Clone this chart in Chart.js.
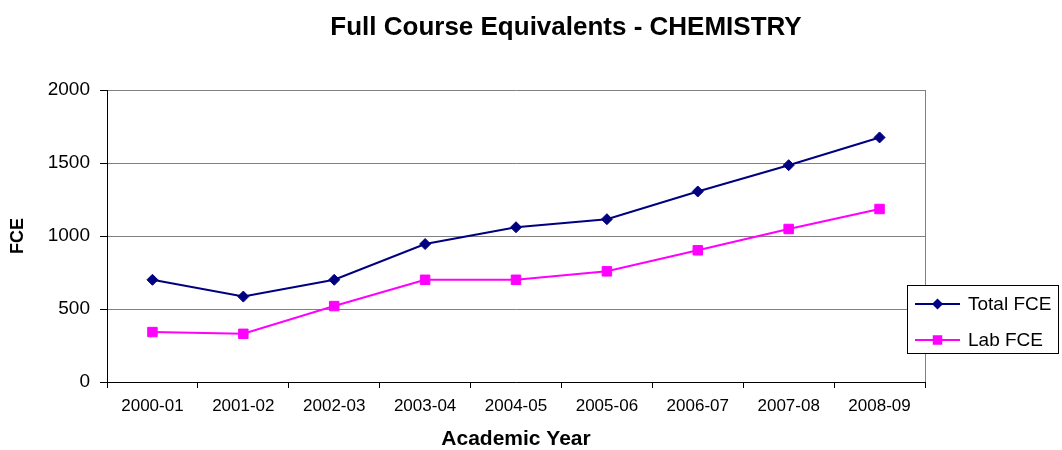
<!DOCTYPE html>
<html>
<head>
<meta charset="utf-8">
<title>Full Course Equivalents - CHEMISTRY</title>
<script src="https://cdn.jsdelivr.net/npm/chart.js@4.4.1/dist/chart.umd.min.js"></script>
<style>
  html, body { margin: 0; padding: 0; background: #fff; }
  #grafico { display: block; }
</style>
</head>
<body>
<canvas id="grafico" width="1062" height="450"></canvas>
<script>
// dados
const anos = ['2000-01', '2001-02', '2002-03', '2003-04', '2004-05', '2005-06', '2006-07', '2007-08', '2008-09'];
const totalFCE = [700, 585, 700, 945, 1060, 1115, 1305, 1485, 1675];
const labFCE = [342, 330, 520, 700, 700, 758, 902, 1048, 1185];
const ticksY = [0, 500, 1000, 1500, 2000];

const FONTE = "'Liberation Sans', Arial, sans-serif";
const AZUL = '#000080';
const ROSA = '#ff00ff';

// titulo, borda direita da area e legenda desenhados a mao (estilo Excel)
const extras = {
    id: 'extras',
    beforeDatasetsDraw(chart) {
        const { ctx, chartArea: a } = chart;
        ctx.save();
        ctx.strokeStyle = '#808080';
        ctx.lineWidth = 1;
        ctx.beginPath();
        ctx.moveTo(a.right + 0.5, a.top);
        ctx.lineTo(a.right + 0.5, a.bottom);
        ctx.stroke();
        ctx.restore();
    },
    afterDraw(chart) {
        const { ctx } = chart;
        ctx.save();
        ctx.fillStyle = '#000';
        ctx.font = 'bold 26px ' + FONTE;
        ctx.textAlign = 'center';
        ctx.textBaseline = 'middle';
        ctx.fillText('Full Course Equivalents - CHEMISTRY', 566, 28);

        // legenda
        const lx = 907.5, ly = 285.5, lw = 151, lh = 68;
        ctx.fillStyle = '#fff';
        ctx.fillRect(lx, ly, lw, lh);
        ctx.strokeStyle = '#000';
        ctx.lineWidth = 1;
        ctx.strokeRect(lx, ly, lw, lh);

        const itens = [
            { nome: 'Total FCE', cor: AZUL, forma: 'diamante', y: 304 },
            { nome: 'Lab FCE', cor: ROSA, forma: 'quadrado', y: 340 }
        ];
        itens.forEach(item => {
            ctx.strokeStyle = item.cor;
            ctx.lineWidth = 2;
            ctx.beginPath();
            ctx.moveTo(915, item.y);
            ctx.lineTo(960, item.y);
            ctx.stroke();
            ctx.fillStyle = item.cor;
            const cx = 937.5;
            if (item.forma === 'diamante') {
                ctx.beginPath();
                ctx.moveTo(cx, item.y - 5.5);
                ctx.lineTo(cx + 5.5, item.y);
                ctx.lineTo(cx, item.y + 5.5);
                ctx.lineTo(cx - 5.5, item.y);
                ctx.closePath();
                ctx.fill();
            } else {
                ctx.fillRect(cx - 4.75, item.y - 4.75, 9.5, 9.5);
            }
            ctx.fillStyle = '#000';
            ctx.font = '19px ' + FONTE;
            ctx.textAlign = 'left';
            ctx.textBaseline = 'middle';
            ctx.fillText(item.nome, 968, item.y + 1);
        });
        ctx.restore();
    }
};

new Chart(document.getElementById('grafico'), {
    type: 'line',
    data: {
        labels: anos,
        datasets: [
            {
                label: 'Total FCE',
                data: totalFCE,
                borderColor: AZUL,
                backgroundColor: AZUL,
                borderWidth: 2,
                pointStyle: 'rectRot',
                pointRadius: 5.5,
                pointBorderWidth: 1,
                tension: 0
            },
            {
                label: 'Lab FCE',
                data: labFCE,
                borderColor: ROSA,
                backgroundColor: ROSA,
                borderWidth: 2,
                pointStyle: 'rect',
                pointRadius: 6.7,
                pointBorderWidth: 1,
                tension: 0
            }
        ]
    },
    options: {
        responsive: false,
        animation: false,
        devicePixelRatio: 1,
        layout: { padding: { left: 0, top: 90, right: 137, bottom: 0 } },
        scales: {
            x: {
                type: 'category',
                offset: true,
                grid: {
                    offset: true,
                    drawOnChartArea: false,
                    drawTicks: true,
                    tickLength: 6,
                    tickColor: '#000'
                },
                border: { color: '#000', width: 1 },
                ticks: {
                    color: '#000',
                    font: { family: FONTE, size: 17 },
                    padding: 8,
                    maxRotation: 0,
                    autoSkip: false
                },
                title: {
                    display: true,
                    text: 'Academic Year',
                    color: '#000',
                    font: { family: FONTE, size: 21, weight: 'bold', lineHeight: 1 },
                    padding: { top: 0, bottom: 0 }
                },
                afterFit(scale) { scale.height = 68; }
            },
            y: {
                min: 0,
                max: 2000,
                afterBuildTicks(scale) { scale.ticks = ticksY.map(v => ({ value: v })); },
                grid: {
                    color: '#808080',
                    lineWidth: 1,
                    drawTicks: true,
                    tickLength: 7,
                    tickColor: '#000'
                },
                border: { color: '#000', width: 1 },
                ticks: {
                    color: '#000',
                    font: { family: FONTE, size: 19 },
                    padding: 10,
                    callback: v => String(v)
                },
                title: {
                    display: true,
                    text: 'FCE',
                    color: '#000',
                    font: { family: FONTE, size: 18, weight: 'bold', lineHeight: 1 },
                    padding: { top: 9, bottom: 0 }
                },
                afterFit(scale) { scale.width = 107; }
            }
        },
        plugins: {
            legend: { display: false },
            title: { display: false },
            tooltip: { enabled: false }
        }
    },
    plugins: [extras]
});
</script>
</body>
</html>
